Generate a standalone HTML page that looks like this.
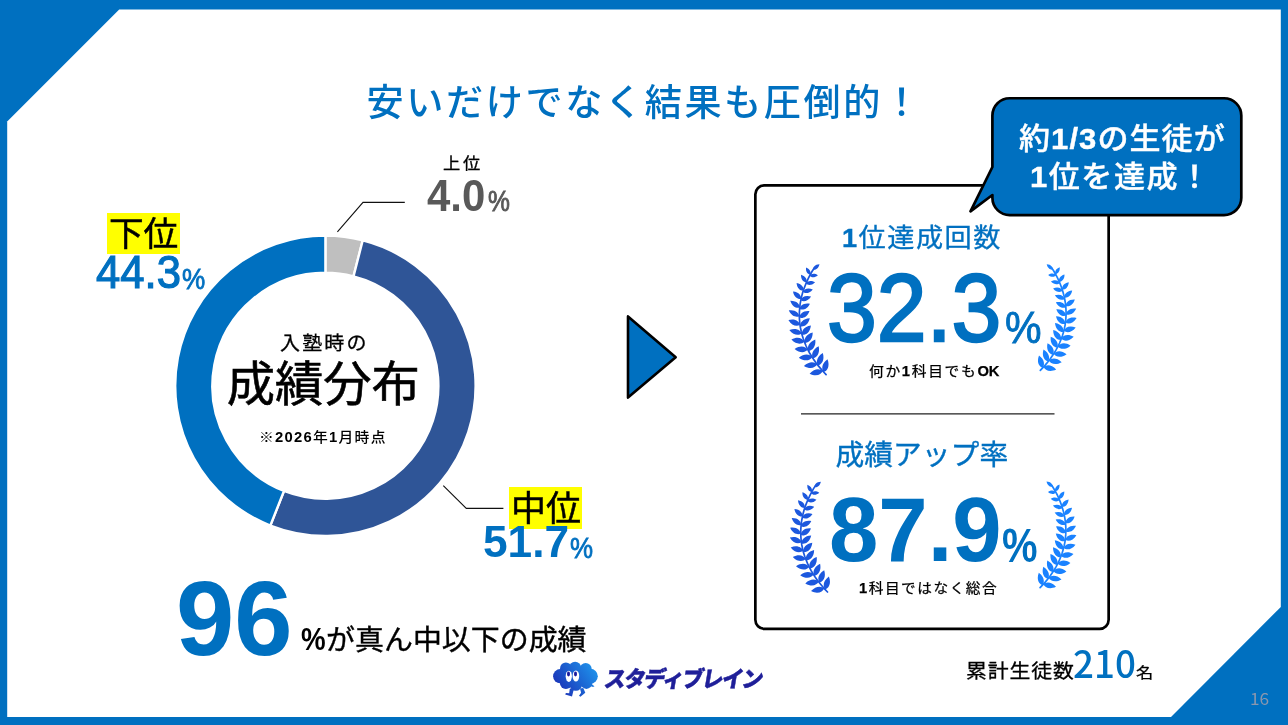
<!DOCTYPE html>
<html lang="ja">
<head>
<meta charset="utf-8">
<title>安いだけでなく結果も圧倒的！</title>
<style>
html,body{margin:0;padding:0;background:#0070C0;}
body{width:1288px;height:725px;overflow:hidden;background:#0070C0;position:relative;
  font-family:"Liberation Sans","Noto Sans CJK JP",sans-serif;color:#000;}
.art{position:absolute;left:0;top:0;display:block;}
.t{position:absolute;white-space:nowrap;line-height:1;margin:0;padding:0;font-weight:400;transform-origin:0 50%;}
.jp{font-family:"Noto Sans CJK JP","Liberation Sans",sans-serif;}
.b{font-weight:700;}
.blue{color:#0070C0;}
</style>
</head>
<body>
<svg class="art" width="1288" height="725" viewBox="0 0 1288 725">
<defs>
<linearGradient id="cg" gradientUnits="userSpaceOnUse" x1="556" y1="692" x2="596" y2="664"><stop offset="0" stop-color="#1A2CB4"/><stop offset="1" stop-color="#1E98EE"/></linearGradient>
</defs>
<polygon points="7.2,121.4 119.2,9.4 1280.8,9.4 1280.8,607 1171,717.1 7.2,717.1" fill="#fff"/>
<path d="M325.40 235.60A150.2 150.2 0 0 1 362.75 240.32L353.50 276.35A113.0 113.0 0 0 0 325.40 272.80Z" fill="#BFBFBF" stroke="#fff" stroke-width="2.4" stroke-linejoin="miter"/><path d="M362.75 240.32A150.2 150.2 0 1 1 270.35 525.55L283.99 490.94A113.0 113.0 0 1 0 353.50 276.35Z" fill="#2F5597" stroke="#fff" stroke-width="2.4" stroke-linejoin="miter"/><path d="M270.35 525.55A150.2 150.2 0 0 1 325.40 235.60L325.40 272.80A113.0 113.0 0 0 0 283.99 490.94Z" fill="#0070C0" stroke="#fff" stroke-width="2.4" stroke-linejoin="miter"/>
<polyline points="337.4,231.9 363,202.4 404.8,202.4" fill="none" stroke="#111" stroke-width="1.1"/>
<polyline points="443.3,485.6 466.3,508.4 503.4,508.4" fill="none" stroke="#111" stroke-width="1.1"/>
<rect x="107" y="213" width="73" height="41" fill="#FFFF00"/>
<rect x="509" y="487" width="73" height="42" fill="#FFFF00"/>
<polygon points="628,316.4 675.7,357.2 628,397.6" fill="#0070C0" stroke="#000" stroke-width="2.6" stroke-linejoin="round"/>
<rect x="755.35" y="185.35" width="353.3" height="443.5" rx="9" ry="9" fill="#fff" stroke="#000" stroke-width="2.7"/>
<line x1="801" y1="413.9" x2="1054.5" y2="413.9" stroke="#222" stroke-width="1.1"/>
<g fill="#1C58DE" stroke="#1C58DE"><path d="M826.1 374.6L823.4 371.8L820.9 368.9L818.4 365.9L816.0 362.8L813.7 359.6L811.6 356.3L809.6 353.0L807.8 349.5L806.1 346.0L804.6 342.4L803.3 338.8L802.1 335.1L801.2 331.3L800.4 327.5L799.8 323.6L799.5 319.8L799.3 315.9L799.4 312.0L799.7 308.1L800.1 304.2L800.8 300.4L801.6 296.6L802.6 292.8L803.8 289.1L805.2 285.5L806.7 281.9L808.3 278.4L810.1 274.9L812.0 271.5L814.1 268.2" fill="none" stroke-width="1.7" stroke-linecap="round"/><path d="M823.7 372.1C827.1 371.0 830.3 366.3 827.5 359.2C821.3 363.7 821.5 369.3 823.7 372.1ZM822.8 371.0C820.2 368.6 814.6 367.9 809.6 373.7C816.5 377.1 821.4 374.3 822.8 371.0ZM818.0 365.4C821.5 364.6 825.0 360.2 822.8 352.9C816.3 356.9 816.0 362.5 818.0 365.4ZM817.2 364.3C814.8 361.7 809.3 360.6 803.9 366.0C810.5 369.9 815.6 367.5 817.2 364.3ZM812.9 358.4C816.4 357.8 820.3 353.8 818.7 346.3C811.9 349.7 811.2 355.3 812.9 358.4ZM812.2 357.2C810.1 354.4 804.6 352.8 798.8 357.8C805.0 362.2 810.3 360.2 812.2 357.2ZM808.5 350.9C812.0 350.7 816.2 347.0 815.3 339.5C808.3 342.3 807.0 347.7 808.5 350.9ZM807.8 349.6C806.0 346.7 800.8 344.6 794.6 348.9C800.3 353.9 805.7 352.4 807.8 349.6ZM804.8 343.0C808.3 343.1 812.8 340.0 812.7 332.6C805.5 334.5 803.7 339.7 804.8 343.0ZM804.3 341.7C802.8 338.6 797.9 336.0 791.4 339.6C796.5 345.1 801.9 344.2 804.3 341.7ZM802.0 334.7C805.4 335.3 810.1 332.7 810.9 325.4C803.6 326.5 801.3 331.4 802.0 334.7ZM801.7 333.4C800.6 330.2 796.1 327.2 789.3 330.0C793.7 335.8 799.1 335.6 801.7 333.4ZM800.2 326.2C803.4 327.1 808.3 325.2 809.8 318.2C802.7 318.5 799.9 322.9 800.2 326.2ZM800.0 324.8C799.3 321.6 795.3 318.2 788.4 320.1C792.0 326.3 797.2 326.7 800.0 324.8ZM799.4 317.6C802.3 318.8 807.2 317.5 809.5 311.0C802.7 310.4 799.5 314.4 799.4 317.6ZM799.3 316.2C799.0 313.0 795.6 309.3 788.8 310.3C791.5 316.6 796.5 317.6 799.3 316.2ZM799.6 308.9C802.3 310.4 807.1 309.7 809.9 303.7C803.5 302.4 800.0 305.8 799.6 308.9ZM799.7 307.5C799.8 304.4 796.9 300.5 790.3 300.7C792.2 307.0 796.8 308.5 799.7 307.5ZM800.8 300.2C803.1 301.9 807.7 301.8 811.1 296.5C805.1 294.6 801.5 297.4 800.8 300.2ZM801.1 298.9C801.5 296.0 799.2 292.0 793.0 291.5C794.1 297.7 798.3 299.5 801.1 298.9ZM802.9 291.8C804.9 293.6 809.2 293.9 812.8 289.4C807.5 287.0 803.9 289.3 802.9 291.8ZM803.3 290.5C804.0 287.8 802.3 283.9 796.6 282.9C797.0 288.7 800.7 290.8 803.3 290.5ZM805.9 283.6C807.6 285.4 811.4 286.1 815.1 282.3C810.5 279.7 807.0 281.4 805.9 283.6ZM806.5 282.3C807.3 280.0 806.1 276.3 801.0 274.8C800.8 280.1 804.0 282.4 806.5 282.3ZM809.6 275.8C811.0 277.5 814.4 278.4 817.9 275.3C814.1 272.6 810.8 273.9 809.6 275.8ZM810.3 274.5C811.2 272.5 810.4 269.1 806.0 267.4C805.5 272.1 808.1 274.4 810.3 274.5ZM813.1 269.7C815.3 270.3 818.5 268.9 819.5 264.3C814.7 264.5 812.9 267.5 813.1 269.7Z" stroke="none"/><path d="M827.5 592.0L824.8 589.2L822.3 586.3L819.8 583.3L817.4 580.2L815.1 577.0L813.0 573.7L811.0 570.4L809.2 566.9L807.5 563.4L806.0 559.8L804.7 556.2L803.5 552.5L802.6 548.7L801.8 544.9L801.2 541.0L800.9 537.2L800.7 533.3L800.8 529.4L801.1 525.5L801.5 521.6L802.2 517.8L803.0 514.0L804.0 510.2L805.2 506.5L806.6 502.9L808.1 499.3L809.7 495.8L811.5 492.3L813.4 488.9L815.5 485.6" fill="none" stroke-width="1.7" stroke-linecap="round"/><path d="M825.1 589.5C828.5 588.4 831.7 583.7 828.9 576.6C822.7 581.1 822.9 586.7 825.1 589.5ZM824.2 588.4C821.6 586.0 816.0 585.3 811.0 591.1C817.9 594.5 822.8 591.7 824.2 588.4ZM819.4 582.8C822.9 582.0 826.4 577.6 824.2 570.3C817.7 574.3 817.4 579.9 819.4 582.8ZM818.6 581.7C816.2 579.1 810.7 578.0 805.3 583.4C811.9 587.3 817.0 584.9 818.6 581.7ZM814.3 575.8C817.8 575.2 821.7 571.2 820.1 563.7C813.3 567.1 812.6 572.7 814.3 575.8ZM813.6 574.6C811.5 571.8 806.0 570.2 800.2 575.2C806.4 579.6 811.7 577.6 813.6 574.6ZM809.9 568.3C813.4 568.1 817.6 564.4 816.7 556.9C809.7 559.7 808.4 565.1 809.9 568.3ZM809.2 567.0C807.4 564.1 802.2 562.0 796.0 566.3C801.7 571.3 807.1 569.8 809.2 567.0ZM806.2 560.4C809.7 560.5 814.2 557.4 814.1 550.0C806.9 551.9 805.1 557.1 806.2 560.4ZM805.7 559.1C804.2 556.0 799.3 553.4 792.8 557.0C797.9 562.5 803.3 561.6 805.7 559.1ZM803.4 552.1C806.8 552.7 811.5 550.1 812.3 542.8C805.0 543.9 802.7 548.8 803.4 552.1ZM803.1 550.8C802.0 547.6 797.5 544.6 790.7 547.4C795.1 553.2 800.5 553.0 803.1 550.8ZM801.6 543.6C804.8 544.5 809.7 542.6 811.2 535.6C804.1 535.9 801.3 540.3 801.6 543.6ZM801.4 542.2C800.7 539.0 796.7 535.6 789.8 537.5C793.4 543.7 798.6 544.1 801.4 542.2ZM800.8 535.0C803.7 536.2 808.6 534.9 810.9 528.4C804.1 527.8 800.9 531.8 800.8 535.0ZM800.7 533.6C800.4 530.4 797.0 526.7 790.2 527.7C792.9 534.0 797.9 535.0 800.7 533.6ZM801.0 526.3C803.7 527.8 808.5 527.1 811.3 521.1C804.9 519.8 801.4 523.2 801.0 526.3ZM801.1 524.9C801.2 521.8 798.3 517.9 791.7 518.1C793.6 524.4 798.2 525.9 801.1 524.9ZM802.2 517.6C804.5 519.3 809.1 519.2 812.5 513.9C806.5 512.0 802.9 514.8 802.2 517.6ZM802.5 516.3C802.9 513.4 800.6 509.4 794.4 508.9C795.5 515.1 799.7 516.9 802.5 516.3ZM804.3 509.2C806.3 511.0 810.6 511.3 814.2 506.8C808.9 504.4 805.3 506.7 804.3 509.2ZM804.7 507.9C805.4 505.2 803.7 501.3 798.0 500.3C798.4 506.1 802.1 508.2 804.7 507.9ZM807.3 501.0C809.0 502.8 812.8 503.5 816.5 499.7C811.9 497.1 808.4 498.8 807.3 501.0ZM807.9 499.7C808.7 497.4 807.5 493.7 802.4 492.2C802.2 497.5 805.4 499.8 807.9 499.7ZM811.0 493.2C812.4 494.9 815.8 495.8 819.3 492.7C815.5 490.0 812.2 491.3 811.0 493.2ZM811.7 491.9C812.6 489.9 811.8 486.5 807.4 484.8C806.9 489.5 809.5 491.8 811.7 491.9ZM814.5 487.1C816.7 487.7 819.9 486.3 820.9 481.7C816.1 481.9 814.3 484.9 814.5 487.1Z" stroke="none"/></g>
<g fill="#1A82FF" stroke="#1A82FF"><path d="M1040.3 370.4L1042.9 367.7L1045.4 364.9L1047.8 362.0L1050.1 359.0L1052.2 356.0L1054.3 352.9L1056.2 349.6L1058.0 346.3L1059.6 343.0L1061.0 339.5L1062.3 336.0L1063.4 332.4L1064.3 328.8L1065.1 325.1L1065.6 321.4L1065.9 317.7L1066.1 313.9L1066.0 310.2L1065.8 306.4L1065.3 302.7L1064.7 299.0L1063.9 295.4L1062.9 291.8L1061.8 288.2L1060.5 284.7L1059.0 281.2L1057.5 277.8L1055.7 274.5L1053.9 271.3L1051.9 268.1" fill="none" stroke-width="1.7" stroke-linecap="round"/><path d="M1042.7 368.0C1039.4 366.9 1036.3 362.5 1039.0 355.6C1045.0 359.9 1044.8 365.3 1042.7 368.0ZM1043.6 367.0C1046.0 364.6 1051.4 364.0 1056.2 369.6C1049.6 372.8 1044.9 370.1 1043.6 367.0ZM1048.1 361.6C1044.8 360.8 1041.4 356.6 1043.5 349.6C1049.8 353.4 1050.0 358.8 1048.1 361.6ZM1048.9 360.5C1051.2 358.0 1056.5 357.0 1061.7 362.2C1055.4 365.9 1050.5 363.6 1048.9 360.5ZM1053.0 354.8C1049.7 354.3 1045.9 350.4 1047.5 343.2C1054.0 346.5 1054.7 351.9 1053.0 354.8ZM1053.7 353.7C1055.8 351.0 1061.0 349.5 1066.6 354.2C1060.6 358.5 1055.6 356.6 1053.7 353.7ZM1057.3 347.6C1053.9 347.4 1049.9 343.9 1050.7 336.7C1057.5 339.3 1058.7 344.5 1057.3 347.6ZM1057.9 346.4C1059.7 343.5 1064.7 341.6 1070.6 345.7C1065.1 350.5 1060.0 349.1 1057.9 346.4ZM1060.8 340.0C1057.5 340.2 1053.1 337.2 1053.2 330.0C1060.2 331.9 1061.9 336.9 1060.8 340.0ZM1061.3 338.8C1062.7 335.8 1067.4 333.3 1073.7 336.8C1068.8 342.0 1063.6 341.2 1061.3 338.8ZM1063.5 332.1C1060.3 332.6 1055.7 330.1 1055.0 323.1C1062.0 324.2 1064.2 328.9 1063.5 332.1ZM1063.9 330.8C1064.9 327.7 1069.2 324.8 1075.7 327.5C1071.5 333.1 1066.4 332.9 1063.9 330.8ZM1065.3 323.9C1062.2 324.8 1057.5 322.9 1056.0 316.2C1062.9 316.4 1065.6 320.7 1065.3 323.9ZM1065.5 322.6C1066.1 319.5 1070.0 316.2 1076.6 318.0C1073.2 324.0 1068.1 324.3 1065.5 322.6ZM1066.1 315.6C1063.2 316.7 1058.5 315.5 1056.3 309.2C1062.9 308.7 1066.0 312.5 1066.1 315.6ZM1066.1 314.2C1066.4 311.2 1069.7 307.6 1076.2 308.6C1073.6 314.7 1068.8 315.6 1066.1 314.2ZM1065.9 307.2C1063.3 308.6 1058.7 308.0 1055.9 302.3C1062.1 301.0 1065.4 304.3 1065.9 307.2ZM1065.7 305.9C1065.7 302.9 1068.4 299.1 1074.8 299.4C1073.0 305.4 1068.5 306.8 1065.7 305.9ZM1064.7 298.9C1062.4 300.5 1058.0 300.4 1054.8 295.3C1060.5 293.5 1064.0 296.2 1064.7 298.9ZM1064.4 297.6C1064.1 294.8 1066.2 291.0 1072.2 290.5C1071.2 296.4 1067.1 298.2 1064.4 297.6ZM1062.6 290.8C1060.7 292.5 1056.6 292.8 1053.1 288.4C1058.2 286.2 1061.7 288.4 1062.6 290.8ZM1062.2 289.5C1061.6 287.0 1063.3 283.2 1068.8 282.2C1068.4 287.8 1064.8 289.8 1062.2 289.5ZM1059.8 282.9C1058.2 284.6 1054.5 285.3 1050.9 281.6C1055.3 279.1 1058.7 280.8 1059.8 282.9ZM1059.2 281.7C1058.5 279.4 1059.6 275.8 1064.5 274.4C1064.7 279.5 1061.6 281.7 1059.2 281.7ZM1056.2 275.3C1054.9 277.0 1051.6 277.9 1048.2 274.9C1051.9 272.3 1055.1 273.5 1056.2 275.3ZM1055.5 274.2C1054.7 272.2 1055.4 268.9 1059.7 267.3C1060.2 271.8 1057.6 274.0 1055.5 274.2ZM1052.8 269.5C1050.8 270.1 1047.7 268.8 1046.7 264.3C1051.3 264.5 1053.0 267.4 1052.8 269.5Z" stroke="none"/><path d="M1040.1 587.6L1042.7 584.9L1045.2 582.1L1047.6 579.2L1049.9 576.2L1052.0 573.2L1054.1 570.1L1056.0 566.8L1057.8 563.5L1059.4 560.2L1060.8 556.7L1062.1 553.2L1063.2 549.6L1064.1 546.0L1064.9 542.3L1065.4 538.6L1065.7 534.9L1065.9 531.1L1065.8 527.4L1065.6 523.6L1065.1 519.9L1064.5 516.2L1063.7 512.6L1062.7 509.0L1061.6 505.4L1060.3 501.9L1058.8 498.4L1057.3 495.0L1055.5 491.7L1053.7 488.5L1051.7 485.3" fill="none" stroke-width="1.7" stroke-linecap="round"/><path d="M1042.5 585.2C1039.2 584.1 1036.1 579.7 1038.8 572.8C1044.8 577.1 1044.6 582.5 1042.5 585.2ZM1043.4 584.2C1045.8 581.8 1051.2 581.2 1056.0 586.8C1049.4 590.0 1044.7 587.3 1043.4 584.2ZM1047.9 578.8C1044.6 578.0 1041.2 573.8 1043.3 566.8C1049.6 570.6 1049.8 576.0 1047.9 578.8ZM1048.7 577.7C1051.0 575.2 1056.3 574.2 1061.5 579.4C1055.2 583.1 1050.3 580.8 1048.7 577.7ZM1052.8 572.0C1049.5 571.5 1045.7 567.6 1047.3 560.4C1053.8 563.7 1054.5 569.1 1052.8 572.0ZM1053.5 570.9C1055.6 568.2 1060.8 566.7 1066.4 571.4C1060.4 575.7 1055.4 573.8 1053.5 570.9ZM1057.1 564.8C1053.7 564.6 1049.7 561.1 1050.5 553.9C1057.3 556.5 1058.5 561.7 1057.1 564.8ZM1057.7 563.6C1059.5 560.7 1064.5 558.8 1070.4 562.9C1064.9 567.7 1059.8 566.3 1057.7 563.6ZM1060.6 557.2C1057.3 557.4 1052.9 554.4 1053.0 547.2C1060.0 549.1 1061.7 554.1 1060.6 557.2ZM1061.1 556.0C1062.5 553.0 1067.2 550.5 1073.5 554.0C1068.6 559.2 1063.4 558.4 1061.1 556.0ZM1063.3 549.3C1060.1 549.8 1055.5 547.3 1054.8 540.3C1061.8 541.4 1064.0 546.1 1063.3 549.3ZM1063.7 548.0C1064.7 544.9 1069.0 542.0 1075.5 544.7C1071.3 550.3 1066.2 550.1 1063.7 548.0ZM1065.1 541.1C1062.0 542.0 1057.3 540.1 1055.8 533.4C1062.7 533.6 1065.4 537.9 1065.1 541.1ZM1065.3 539.8C1065.9 536.7 1069.8 533.4 1076.4 535.2C1073.0 541.2 1067.9 541.5 1065.3 539.8ZM1065.9 532.8C1063.0 533.9 1058.3 532.7 1056.1 526.4C1062.7 525.9 1065.8 529.7 1065.9 532.8ZM1065.9 531.4C1066.2 528.4 1069.5 524.8 1076.0 525.8C1073.4 531.9 1068.6 532.8 1065.9 531.4ZM1065.7 524.4C1063.1 525.8 1058.5 525.2 1055.7 519.5C1061.9 518.2 1065.2 521.5 1065.7 524.4ZM1065.5 523.1C1065.5 520.1 1068.2 516.3 1074.6 516.6C1072.8 522.6 1068.3 524.0 1065.5 523.1ZM1064.5 516.1C1062.2 517.7 1057.8 517.6 1054.6 512.5C1060.3 510.7 1063.8 513.4 1064.5 516.1ZM1064.2 514.8C1063.9 512.0 1066.0 508.2 1072.0 507.7C1071.0 513.6 1066.9 515.4 1064.2 514.8ZM1062.4 508.0C1060.5 509.7 1056.4 510.0 1052.9 505.6C1058.0 503.4 1061.5 505.6 1062.4 508.0ZM1062.0 506.7C1061.4 504.2 1063.1 500.4 1068.6 499.4C1068.2 505.0 1064.6 507.0 1062.0 506.7ZM1059.6 500.1C1058.0 501.8 1054.3 502.5 1050.7 498.8C1055.1 496.3 1058.5 498.0 1059.6 500.1ZM1059.0 498.9C1058.3 496.6 1059.4 493.0 1064.3 491.6C1064.5 496.7 1061.4 498.9 1059.0 498.9ZM1056.0 492.5C1054.7 494.2 1051.4 495.1 1048.0 492.1C1051.7 489.5 1054.9 490.7 1056.0 492.5ZM1055.3 491.4C1054.5 489.4 1055.2 486.1 1059.5 484.5C1060.0 489.0 1057.4 491.2 1055.3 491.4ZM1052.6 486.7C1050.6 487.3 1047.5 486.0 1046.5 481.5C1051.1 481.7 1052.8 484.6 1052.6 486.7Z" stroke="none"/></g>
<path d="M1010 98.25H1224A17.3 17.3 0 0 1 1241.3 115.6V197.8A17.3 17.3 0 0 1 1224 215.1H1010A17.3 17.3 0 0 1 992.4 197.8V195L970.5 211.3L992.4 167V115.6A17.3 17.3 0 0 1 1010 98.25Z" fill="#0070C0" stroke="#000" stroke-width="2.7" stroke-linejoin="round"/>
<g id="logo">
<g fill="url(#cg)">
<circle cx="560.2" cy="676.2" r="7.1"/><circle cx="565.9" cy="668.2" r="5.8"/><circle cx="575.1" cy="667.9" r="6.1"/><circle cx="585.7" cy="668.9" r="6"/>
<circle cx="590.4" cy="676.2" r="7.4"/><circle cx="565.9" cy="683.1" r="6"/><circle cx="575.8" cy="684.5" r="6.3"/><circle cx="586.4" cy="682.8" r="6.1"/>
<ellipse cx="575" cy="676" rx="15" ry="9"/>
<path d="M569.8 688.5L574 688.5L572 696.4L565.2 694.4L565.9 692.9L569.2 693.2Z"/>
<path d="M580 688.5L583.3 688L585.3 692.7L580.4 696.8L579 695.7L581.1 692.7Z"/>
<path d="M590 683L594.5 686.3L593 687L589 685.5Z"/>
</g>
<ellipse cx="568.8" cy="676.3" rx="3.1" ry="5.6" fill="#fff"/><ellipse cx="575.9" cy="676" rx="3.3" ry="5.6" fill="#fff"/>
<ellipse cx="568.5" cy="674" rx="1.5" ry="2.4" fill="#1B1B9E"/><ellipse cx="575.5" cy="674" rx="1.5" ry="2.4" fill="#1B1B9E"/>
</g>
</svg>
<h1 class="t jp blue" style="left:366.6px;top:81.9px;font-size:37.13px;font-weight:500;letter-spacing:2.6px;">安いだけでなく結果も圧倒的！</h1>
<div class="t jp" style="left:443.0px;top:154.1px;font-size:16.28px;transform:scaleX(1.060);letter-spacing:2.52px;-webkit-text-stroke:0.3px #000;">上位</div>
<div class="t b" style="left:427.0px;top:173.8px;font-size:44.24px;transform:scaleX(0.948);color:#595959;">4.0</div>
<div class="t" style="left:487.5px;top:186.4px;font-size:29.31px;transform:scaleX(0.841);color:#595959;-webkit-text-stroke:0.9px #595959;">%</div>
<div class="t jp" style="left:108.9px;top:214.3px;font-size:34.66px;-webkit-text-stroke:0.5px #000;">下位</div>
<div class="t blue" style="left:96.0px;top:249.6px;font-size:45.54px;transform:scaleX(0.958);-webkit-text-stroke:1.2px #0070C0;">44.3</div>
<div class="t blue" style="left:182.4px;top:264.8px;font-size:29.14px;transform:scaleX(0.896);-webkit-text-stroke:0.8px #0070C0;">%</div>
<div class="t jp" style="left:511.0px;top:487.7px;font-size:34.99px;-webkit-text-stroke:0.5px #000;">中位</div>
<div class="t b blue" style="left:483.3px;top:519.4px;font-size:44.79px;transform:scaleX(0.988);">51.7</div>
<div class="t blue" style="left:569.9px;top:533.3px;font-size:29.75px;transform:scaleX(0.871);-webkit-text-stroke:0.8px #0070C0;">%</div>
<div class="t jp" style="left:280.1px;top:332.5px;font-size:18.89px;transform:scaleX(1.060);letter-spacing:2.00px;-webkit-text-stroke:0.3px #000;">入塾時の</div>
<div class="t jp" style="left:226.7px;top:355.7px;font-size:48.27px;-webkit-text-stroke:0.6px #000;">成績分布</div>
<div class="t" style="left:259.1px;top:430.3px;font-size:13.98px;transform:scaleX(1.060);letter-spacing:1.18px;font-weight:500;">※<b>2026</b>年<b>1</b>月時点</div>
<div class="t b blue" style="left:176.4px;top:565.8px;font-size:105.49px;transform:scaleX(0.993);">96</div>
<div class="t b" style="left:301.2px;top:623.5px;font-size:31.78px;transform:scaleX(0.872);">%</div>
<div class="t jp" style="left:326.1px;top:622.5px;font-size:28.95px;-webkit-text-stroke:0.4px #000;">が真ん中以下の成績</div>
<div class="t jp" style="left:604.8px;top:666.2px;font-size:22.35px;transform:scaleX(0.957) skewX(-10deg);font-weight:900;color:#1F1F99;letter-spacing:-1.6px;-webkit-text-stroke:0.5px #1F1F99;">スタディブレイン</div>
<div class="t blue" style="left:842.0px;top:226.1px;font-size:25.66px;transform:scaleX(1.060);letter-spacing:1.39px;-webkit-text-stroke:0.35px #0070C0;"><span class="b">1</span>位達成回数</div>
<div class="t blue" style="left:827.2px;top:259.5px;font-size:96.01px;transform:scaleX(0.933);-webkit-text-stroke:2.4px #0070C0;">32.3</div>
<div class="t blue" style="left:1004.9px;top:304.6px;font-size:45.20px;transform:scaleX(0.909);-webkit-text-stroke:0.9px #0070C0;">%</div>
<div class="t" style="left:869.1px;top:364.5px;font-size:13.91px;transform:scaleX(1.060);letter-spacing:1.58px;-webkit-text-stroke:0.25px #000;">何か<b>1</b>科目でも<b style="letter-spacing:0">OK</b></div>
<div class="t jp blue" style="left:835.5px;top:439.4px;font-size:28.79px;-webkit-text-stroke:0.35px #0070C0;">成績アップ率</div>
<div class="t b blue" style="left:828.6px;top:483.9px;font-size:91.12px;transform:scaleX(0.974);">87.9</div>
<div class="t b blue" style="left:1001.5px;top:522.2px;font-size:47.47px;transform:scaleX(0.842);">%</div>
<div class="t" style="left:858.5px;top:582.1px;font-size:13.85px;transform:scaleX(1.060);letter-spacing:1.43px;-webkit-text-stroke:0.25px #000;"><b>1</b>科目ではなく総合</div>
<div class="t" style="left:1018.9px;top:123.9px;font-size:29.30px;transform:scaleX(1.060);letter-spacing:0.98px;color:#fff;font-weight:500;-webkit-text-stroke:0.4px #fff;">約<b>1/3</b>の生徒が</div>
<div class="t" style="left:1029.9px;top:162.4px;font-size:29.30px;transform:scaleX(1.060);letter-spacing:1.42px;color:#fff;font-weight:500;-webkit-text-stroke:0.4px #fff;"><b>1</b>位を達成！</div>
<div class="t jp" style="left:966.0px;top:660.2px;font-size:19.69px;transform:scaleX(1.060);letter-spacing:0.84px;-webkit-text-stroke:0.3px #000;">累計生徒数</div>
<div class="t jp blue" style="left:1073.2px;top:643.0px;font-size:37.68px;transform:scaleX(0.976);font-weight:500;">210</div>
<div class="t jp" style="left:1136.3px;top:663.8px;font-size:15.00px;transform:scaleX(1.150);-webkit-text-stroke:0.25px #000;">名</div>
<div class="t jp" style="left:1250.3px;top:690.0px;font-size:16.06px;transform:scaleX(1.073);color:#8A97AE;">16</div>
</body>
</html>
